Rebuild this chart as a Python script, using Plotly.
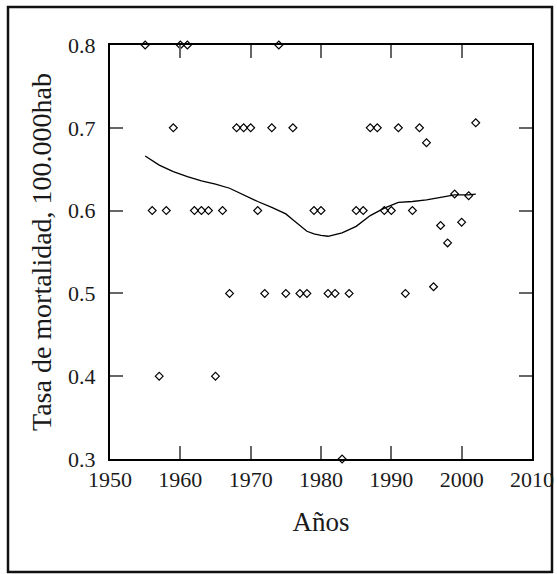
import plotly.graph_objects as go

# Observed data (year, rate)
years = [1955, 1956, 1957, 1958, 1959, 1960, 1961, 1962, 1963, 1964,
         1965, 1966, 1967, 1968, 1969, 1970, 1971, 1972, 1973, 1974,
         1975, 1976, 1977, 1978, 1979, 1980, 1981, 1982, 1983, 1984,
         1985, 1986, 1987, 1988, 1989, 1990, 1991, 1992, 1993, 1994,
         1995, 1996, 1997, 1998, 1999, 2000, 2001, 2002]
rates = [0.8, 0.6, 0.4, 0.6, 0.7, 0.8, 0.8, 0.6, 0.6, 0.6,
         0.4, 0.6, 0.5, 0.7, 0.7, 0.7, 0.6, 0.5, 0.7, 0.8,
         0.5, 0.7, 0.5, 0.5, 0.6, 0.6, 0.5, 0.5, 0.3, 0.5,
         0.6, 0.6, 0.7, 0.7, 0.6, 0.6, 0.7, 0.5, 0.6, 0.7,
         0.682, 0.508, 0.582, 0.561, 0.620, 0.586, 0.618, 0.706]

# Smoothed trend line
smooth_years = [1955, 1957, 1959, 1961, 1963, 1965, 1967, 1969, 1971, 1973,
                1975, 1976, 1977, 1978, 1979, 1980, 1981, 1983, 1985, 1987,
                1989, 1991, 1993, 1995, 1997, 1999, 2001, 2002]
smooth_rates = [0.666, 0.655, 0.647, 0.641, 0.636, 0.632, 0.627, 0.619, 0.611, 0.604,
                0.596, 0.589, 0.582, 0.575, 0.572, 0.570, 0.569, 0.573, 0.581, 0.594,
                0.603, 0.610, 0.611, 0.613, 0.616, 0.619, 0.619, 0.620]

x_ticks = [1950, 1960, 1970, 1980, 1990, 2000, 2010]
y_ticks = [0.3, 0.4, 0.5, 0.6, 0.7, 0.8]

W, H = 557, 574
ML, MR, MT, MB = 110, 25, 45, 115
pw, ph = W - ML - MR, H - MT - MB

font_family = "Liberation Serif"

fig = go.Figure()
fig.add_trace(go.Scatter(
    x=smooth_years, y=smooth_rates, mode="lines",
    line=dict(color="black", width=1.3), hoverinfo="skip", showlegend=False))
fig.add_trace(go.Scatter(
    x=years, y=rates, mode="markers",
    marker=dict(symbol="diamond-open", size=6, color="black", line=dict(width=1.2)),
    cliponaxis=False, showlegend=False))

# outer border box, in paper coordinates derived from pixel positions
def px_x(p):
    return (p - ML) / pw

def px_y(p):
    return (H - MB - p) / ph

fig.add_shape(type="rect", xref="paper", yref="paper",
              x0=px_x(8), x1=px_x(552), y0=px_y(572), y1=px_y(7),
              line=dict(color="#111", width=2.5), fillcolor="rgba(0,0,0,0)")

axis_common = dict(
    showgrid=False, zeroline=False, showline=True, linecolor="black", linewidth=2,
    mirror="ticks", ticks="inside", ticklen=13, tickcolor="#666", tickwidth=1.5,
    tickfont=dict(family=font_family, size=22, color="#1a1a1a"),
)

fig.update_xaxes(range=[1950, 2010], tickvals=x_ticks,
                 ticktext=[str(v) for v in x_ticks],
                 title=dict(text="Años", font=dict(family=font_family, size=27, color="#1a1a1a"),
                            standoff=21),
                 ticklabelstandoff=0, **axis_common)
fig.update_yaxes(range=[0.3, 0.8], tickvals=y_ticks,
                 ticktext=[f"{v:.1f}" for v in y_ticks],
                 title=dict(text="Tasa de mortalidad, 100.000hab",
                            font=dict(family=font_family, size=28, color="#1a1a1a"),
                            standoff=8),
                 ticklabelstandoff=8, **axis_common)

fig.update_layout(
    width=W, height=H, margin=dict(l=ML, r=MR, t=MT, b=MB, autoexpand=False),
    paper_bgcolor="white", plot_bgcolor="white",
    font=dict(family=font_family, color="#1a1a1a"),
)

fig.write_html("out.html")
